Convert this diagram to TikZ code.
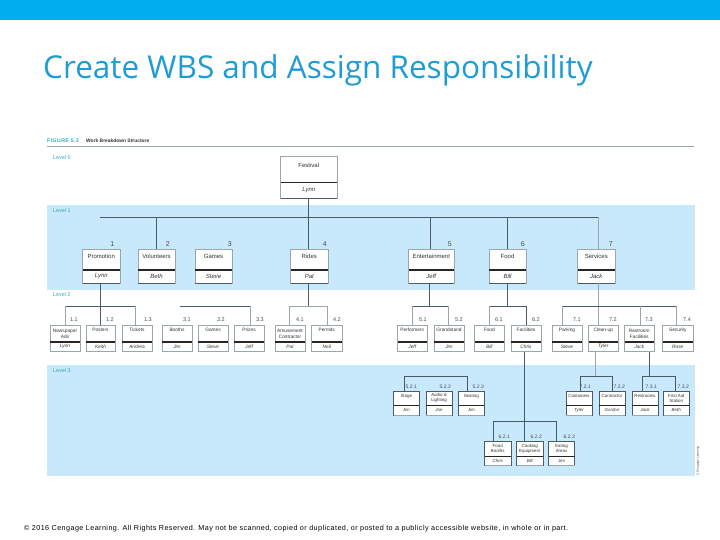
\documentclass[tikz,border=0pt]{standalone}
\usepackage{fontspec}
\setmainfont{Liberation Sans}
\newfontfamily\titlefont{Open Sans}
\newfontfamily\footfont[LetterSpace=6]{Liberation Sans}
\newfontfamily\figfont[LetterSpace=8]{Liberation Sans}
\definecolor{barblue}{HTML}{00ADEF}
\definecolor{titleblue}{HTML}{1F9BD5}
\definecolor{bandblue}{HTML}{C8E8FB}
\definecolor{levelblue}{HTML}{2FA9C9}
\definecolor{linegrey}{HTML}{4A5A66}
\definecolor{lightline}{HTML}{9AA5AC}
\definecolor{txtgrey}{HTML}{333333}
\newcommand{\wfs}{6}
\newcommand{\wlh}{7}
\newcommand{\wside}{lightline}
\newcommand{\wbot}{linegrey}
\newcommand{\wdiv}{1.1pt}
\tikzset{
  x=1pt,y=-1pt,
  box/.style={draw=\wside,fill=white,line width=.6pt,inner sep=0pt},
  divider/.style={line width=\wdiv,draw=black!85},
  boxedge/.style={line width=.7pt,draw=\wbot},
  conn/.style={line width=.75pt,draw=linegrey},
  lconn/.style={line width=.6pt,draw=lightline},
  wname/.style={font=\fontsize{\wfs}{\wlh}\selectfont,text=txtgrey,align=center,inner sep=0pt},
  wnum/.style={font=\fontsize{#1}{#1}\selectfont,text=black!70,anchor=east,inner sep=0pt},
  wlevel/.style={font=\fontsize{5.4}{5.4}\selectfont,text=levelblue,anchor=west,inner sep=0pt}
}
% name, x1, x2, y1, y2, ydivider, title, person, title shift
\newcommand{\wbsbox}[9]{%
  \node[box,minimum width=#3pt-#2pt,minimum height=#5pt-#4pt] (#1) at ({(#2+#3)/2},{(#4+#5)/2}) {};
  \draw[divider] (#2,#6) -- (#3,#6);
  \draw[boxedge] (#2,#5) -- (#3,#5);
  \node[wname] (#1t) at ({(#2+#3)/2},{(#4+#6)/2-#9}) {#7};
  \node[wname] (#1p) at ({(#2+#3)/2},{(#5+#6)/2}) {\itshape #8};
}
\begin{document}
\begin{tikzpicture}
\useasboundingbox (0,0) rectangle (720,540);
\fill[white] (0,0) rectangle (720,540);
\fill[barblue] (0,0) rectangle (720,20);
\node[anchor=base west,inner sep=0pt,text=titleblue,font=\titlefont\fontsize{31.5}{31.5}\selectfont] (title) at (43,78.5) {Create WBS and Assign Responsibility};
% bands
\fill[bandblue] (47,205) rectangle (695,290);
\fill[bandblue] (47,365) rectangle (695,476);
\draw[lightline,line width=.7pt] (47,146.5) -- (694,146.5);
\node[anchor=west,inner sep=0pt,font=\figfont\bfseries\fontsize{5.2}{5.2}\selectfont,text=levelblue] (fig) at (47,141) {FIGURE 5.3};
\node[anchor=west,inner sep=0pt,font=\bfseries\fontsize{4.9}{4.9}\selectfont,text=black!80] (figt) at (86,141) {Work Breakdown Structure};
\node[wlevel] (l0) at (53,157.5) {Level 0};
\node[wlevel] (l1) at (53,210.5) {Level 1};
\node[wlevel] (l2) at (53,295) {Level 2};
\node[wlevel] (l3) at (53,371) {Level 3};
% bus coordinates
\coordinate (b1a) at (100,217.5);
\coordinate (b1b) at (598,217.5);
\coordinate (b1v) at (156.5,217.5);
\coordinate (b1r) at (308.5,217.5);
\coordinate (b1e) at (430,217.5);
\coordinate (b1f) at (507,217.5);
\coordinate (b2pa) at (65.5,306);
\coordinate (b2pb) at (135,306);
\coordinate (b2pc) at (100,306);
\coordinate (b2ga) at (180,306);
\coordinate (b2gb) at (250,306);
\coordinate (b2ra) at (289.5,306);
\coordinate (b2rb) at (327,306);
\coordinate (b2rc) at (308.5,306);
\coordinate (b2ea) at (412,306);
\coordinate (b2eb) at (448.5,306);
\coordinate (b2ec) at (429.5,306);
\coordinate (b2fa) at (489.5,306);
\coordinate (b2fb) at (526,306);
\coordinate (b2fc) at (507,306);
\coordinate (b2sa) at (562,306);
\coordinate (b2sb) at (676,306);
\coordinate (b2sc) at (640,306);
\coordinate (b2sd) at (598,306);
\coordinate (b3ea) at (404.5,376);
\coordinate (b3eb) at (467.5,376);
\coordinate (b3ta) at (580.5,376);
\coordinate (b3tb) at (612,376);
\coordinate (b3tc) at (595,376);
\coordinate (b3ra) at (642.5,376);
\coordinate (b3rb) at (675,376);
\coordinate (b3rc) at (649.5,376);
\coordinate (b3fa) at (493.5,421);
\coordinate (b3fb) at (556,421);
\coordinate (b3fc) at (524,421);
% boxes
\wbsbox{fest}{280.5}{337}{156.5}{198.5}{182.5}{Festival}{Lynn}{4}
\wbsbox{pro}{82.5}{120}{249.5}{283}{270}{Promotion}{Lynn}{3.5}
\wbsbox{vol}{138}{175}{249.5}{283}{270}{Volunteers}{Beth}{3.5}
\wbsbox{gam}{195}{232}{249.5}{283}{270}{Games}{Steve}{3.5}
\wbsbox{rid}{290.5}{328}{249.5}{283}{270}{Rides}{Pat}{3.5}
\wbsbox{ent}{408.5}{454}{249.5}{283}{270}{Entertainment}{Jeff}{3.5}
\wbsbox{foo}{489}{526}{249.5}{283}{270}{Food}{Bill}{3.5}
\wbsbox{ser}{577.5}{615}{249.5}{283}{270}{Services}{Jack}{3.5}
\renewcommand{\wfs}{4.8}
\renewcommand{\wlh}{6}
\renewcommand{\wbot}{lightline}
\wbsbox{a11}{50}{80}{325}{351.5}{342}{Newspaper\\Ads}{Lynn}{0}
\wbsbox{a12}{86}{115}{325}{351.5}{342}{Posters}{Keith}{3.5}
\wbsbox{a13}{122}{152}{325}{351.5}{342}{Tickets}{Andrea}{3.5}
\wbsbox{a31}{162}{192}{325}{351.5}{342}{Booths}{Jim}{3.5}
\wbsbox{a32}{198}{228}{325}{351.5}{342}{Games}{Steve}{3.5}
\wbsbox{a33}{234}{264}{325}{351.5}{342}{Prizes}{Jeff}{3.5}
\wbsbox{a41}{275}{305}{325}{351.5}{342}{Amusement\\Contractor}{Pat}{0}
\wbsbox{a42}{311.5}{342}{325}{351.5}{342}{Permits}{Neil}{3.5}
\wbsbox{a51}{397.5}{427}{325}{351.5}{342}{Performers}{Jeff}{3.5}
\wbsbox{a52}{434}{464}{325}{351.5}{342}{Grandstand}{Jim}{3.5}
\wbsbox{a61}{474.5}{504}{325}{351.5}{342}{Food}{Bill}{3.5}
\wbsbox{a62}{511}{541}{325}{351.5}{342}{Facilities}{Chris}{3.5}
\wbsbox{a71}{552}{582}{325}{351.5}{342}{Parking}{Steve}{3.5}
\wbsbox{a72}{588.5}{618}{325}{351.5}{342}{Clean-up}{Tyler}{3.5}
\wbsbox{a73}{624.5}{654}{325}{351.5}{342}{Restroom\\Facilities}{Jack}{0}
\wbsbox{a74}{662.5}{693}{325}{351.5}{342}{Security}{Rose}{3.5}
\renewcommand{\wfs}{4.4}
\renewcommand{\wlh}{4.8}
\renewcommand{\wside}{linegrey}
\renewcommand{\wdiv}{.8pt}
\wbsbox{c521}{393.5}{419}{391}{415}{405.5}{Stage}{Jim}{2}
\wbsbox{c522}{426}{452}{391}{415}{405.5}{Audio \&\\Lighting}{Joe}{0}
\wbsbox{c523}{458.5}{484}{391}{415}{405.5}{Seating}{Jim}{2}
\wbsbox{c721}{566}{592}{391}{415}{405.5}{Containers}{Tyler}{2}
\wbsbox{c722}{599}{625}{391}{415}{405.5}{Contractor}{Gordon}{2}
\wbsbox{c731}{632}{658}{391}{415}{405.5}{Restrooms}{Jack}{2}
\wbsbox{c732}{663.5}{689}{391}{415}{405.5}{First Aid\\Station}{Beth}{0}
\wbsbox{c621}{484.5}{511}{441}{465}{456}{Food\\Booths}{Chris}{0}
\wbsbox{c622}{516.5}{543}{441}{465}{456}{Cooking\\Equipment}{Bill}{0}
\wbsbox{c623}{548.5}{574.5}{441}{465}{456}{Eating\\Areas}{Jim}{0}
% numbers
\foreach \n/\x in {1/114.5,2/170,3/232,4/327,5/452,6/525,7/613}{\node[wnum=7] (n1\n) at (\x,244) {\n};}
\foreach \n/\x in {1.1/78,1.2/114,1.3/152,3.1/191,3.2/225,3.3/264,4.1/304,4.2/341,5.1/427,5.2/463,6.1/503,6.2/540,7.1/581,7.2/617,7.3/653,7.4/691}{\node[wnum=5.5] (n2\x) at (\x,320) {\n};}
\foreach \n/\x in {5.2.1/417,5.2.2/451,5.2.3/484,7.2.1/591,7.2.2/625,7.3.1/657,7.3.2/689}{\node[wnum=5] (n3\x) at (\x,386.5) {\n};}
\foreach \n/\x in {6.2.1/510,6.2.2/542,6.2.3/575}{\node[wnum=5] (n4\x) at (\x,436.5) {\n};}
% connectors
\draw[conn] (b1r |- fest.south) -- (b1r |- rid.north);
\draw[conn] (b1a) -- (b1b);
\draw[conn] (b1v) -- (vol.north);
\draw[conn] (b1e) -- (b1e |- ent.north);
\draw[conn] (b1f) -- (b1f |- foo.north);
\draw[lconn] (b1b) -- (b1b |- ser.north);
\draw[conn] (b2pa) -- (b2pb);
\draw[conn] (b2pc |- pro.south) -- (b2pc |- a12.north);
\draw[lconn] (b2pa) -- (b2pa |- a11.north);
\draw[lconn] (b2pb) -- (b2pb |- a13.north);
\draw[conn] (b2ga) -- (b2gb);
\draw[lconn] (b2gb) -- (b2gb |- a33.north);
\draw[conn] (b2rc |- rid.south) -- (b2rc);
\draw[lconn] (b2ra) -- (b2rb);
\draw[lconn] (b2ra) -- (b2ra |- a41.north);
\draw[lconn] (b2rb) -- (b2rb |- a42.north);
\draw[conn] (b2ec |- ent.south) -- (b2ec);
\draw[conn] (b2ea) -- (b2eb);
\draw[lconn] (b2ea) -- (b2ea |- a51.north);
\draw[lconn] (b2eb) -- (b2eb |- a52.north);
\draw[conn] (b2fc |- foo.south) -- (b2fc);
\draw[conn] (b2fa) -- (b2fb);
\draw[lconn] (b2fa) -- (b2fa |- a61.north);
\draw[conn] (b2fb) -- (b2fb |- a62.north);
\draw[lconn] (b2sd |- ser.south) -- (b2sd |- a72.north);
\draw[conn] (b2sa) -- (b2sb);
\draw[lconn] (b2sa) -- (b2sa |- a71.north);
\draw[lconn] (b2sc) -- (b2sc |- a73.north);
\draw[lconn] (b2sb) -- (b2sb |- a74.north);
\draw[conn] (b3ea) -- (b3eb);
\draw[conn] (b3ea) -- (b3ea |- c521.north);
\draw[conn] (b3eb) -- (b3eb |- c523.north);
\draw[lconn] (b3tc |- a72.south) -- (b3tc);
\draw[conn] (b3ta) -- (b3tb);
\draw[conn] (b3ta) -- (b3ta |- c721.north);
\draw[conn] (b3tb) -- (b3tb |- c722.north);
\draw[conn] (b3rc |- a73.south) -- (b3rc);
\draw[conn] (b3ra) -- (b3rb);
\draw[conn] (b3ra) -- (b3ra |- c731.north);
\draw[conn] (b3rb) -- (b3rb |- c732.north);
\draw[conn] (b3fc |- a62.south) -- (b3fc |- c622.north);
\draw[conn] (b3fa) -- (b3fb);
\draw[conn] (b3fa) -- (b3fa |- c621.north);
\draw[conn] (b3fb) -- (b3fb |- c623.north);
% credits
\node[rotate=90,anchor=west,inner sep=0pt,font=\fontsize{3.2}{3.2}\selectfont,text=black!70] (cr) at (698,476) {© Cengage Learning};
\node[anchor=west,inner sep=0pt,font=\footfont\fontsize{7.2}{7.2}\selectfont,text=black] (foot) at (24,529) {© 2016 Cengage Learning. All Rights Reserved. May not be scanned, copied or duplicated, or posted to a publicly accessible website, in whole or in part.};
\end{tikzpicture}
\end{document}
